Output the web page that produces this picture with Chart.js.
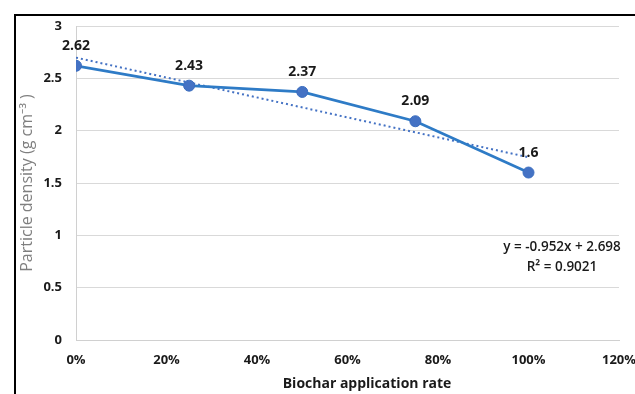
<!DOCTYPE html>
<html>
<head>
<meta charset="utf-8">
<script src="https://cdn.jsdelivr.net/npm/chart.js@4"></script>
<style>
  html, body { margin: 0; padding: 0; background: #fff; overflow: hidden; }
  #wrap { position: relative; width: 635px; height: 394px; }
  #frame { position: absolute; left: 14px; top: 14px; width: 700px; height: 500px;
           border-left: 2px solid #000; border-top: 2px solid #000; pointer-events: none; }
</style>
</head>
<body>
<div id="wrap">
  <canvas id="grafico" width="635" height="394"></canvas>
  <div id="frame"></div>
</div>
<script>
// Datos
const tasas = [0, 25, 50, 75, 100];               // % de aplicación de biochar
const densidad = [2.62, 2.43, 2.37, 2.09, 1.6];   // g cm-3
const tendenciaX = [0, 100];
const tendenciaY = [2.698, 1.746];                // y = -0.952x + 2.698
const ecuacion = ['y = -0.952x + 2.698', 'R\u00B2 = 0.9021'];
const tituloX = 'Biochar application rate';

const fuente = "'Open Sans', 'Noto Sans', sans-serif";

// Etiquetas de datos, ecuación de tendencia y título del eje X
const etiquetas = {
    id: 'etiquetas',
    afterDatasetsDraw(chart) {
        const ctx = chart.ctx;
        const meta = chart.getDatasetMeta(0);
        ctx.save();
        ctx.font = 'bold 14px ' + fuente;
        ctx.fillStyle = '#1a1a1a';
        ctx.textAlign = 'center';
        ctx.textBaseline = 'middle';
        meta.data.forEach((p, i) => {
            ctx.fillText(String(densidad[i]), p.x, p.y - 20);
        });
        ctx.font = '600 13.5px ' + fuente;
        ctx.fillText(ecuacion[0], 562, 247);
        ctx.fillText(ecuacion[1], 562, 267);
        // Título del eje X, centrado como en el original
        ctx.font = 'bold 14px ' + fuente;
        ctx.fillText(tituloX, 367, 384);
        ctx.restore();
    }
};

new Chart(document.getElementById('grafico'), {
    type: 'scatter',
    data: {
        datasets: [
            {
                data: tasas.map((x, i) => ({ x: x, y: densidad[i] })),
                showLine: true,
                borderColor: '#2E7BC6',
                borderWidth: 2.75,
                pointRadius: 5.5,
                pointBackgroundColor: '#4472C4',
                pointBorderColor: '#3A6DBF',
                pointBorderWidth: 1,
                order: 1
            },
            {
                data: tendenciaX.map((x, i) => ({ x: x, y: tendenciaY[i] })),
                showLine: true,
                borderColor: '#4472C4',
                borderWidth: 2,
                borderDash: [2, 3],
                pointRadius: 0,
                order: 2
            }
        ]
    },
    options: {
        responsive: false,
        animation: false,
        layout: { padding: { left: 0, right: 16, top: 26, bottom: 0 } },
        plugins: { legend: { display: false }, tooltip: { enabled: false } },
        scales: {
            x: {
                type: 'linear',
                min: 0, max: 120,
                ticks: {
                    stepSize: 20,
                    padding: 12,
                    color: '#1a1a1a',
                    font: { family: fuente, size: 13, weight: 'bold' },
                    callback: v => v + '%'
                },
                grid: { display: false, drawTicks: false },
                border: { display: true, color: '#D0D0D0', width: 1 },
                title: { display: false },
                afterFit: s => { s.height = 54; s.paddingLeft = 0; s.paddingRight = 0; }
            },
            y: {
                min: 0, max: 3,
                ticks: {
                    stepSize: 0.5,
                    padding: 14,
                    color: '#1a1a1a',
                    font: { family: fuente, size: 13, weight: 'bold' },
                    callback: v => String(v)
                },
                grid: { color: '#D9D9D9', drawTicks: false },
                border: { display: true, color: '#D0D0D0', width: 1 },
                title: {
                    display: true,
                    text: 'Particle density (g cm\u207B\u00B3 )',
                    color: '#7F7F7F',
                    font: { family: fuente, size: 16 },
                    padding: { top: 18, bottom: 0 }
                },
                afterFit: s => { s.width = 76; }
            }
        }
    },
    plugins: [etiquetas]
});
</script>
</body>
</html>
